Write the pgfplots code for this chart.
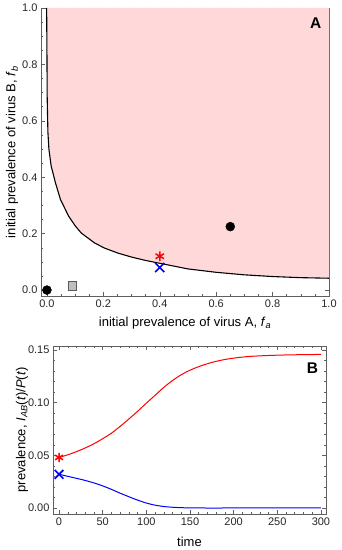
\documentclass[border=0pt]{standalone}
\usepackage{fontspec}
\setmainfont{Liberation Sans}
\usepackage{pgfplots}
\pgfplotsset{compat=1.18}
\definecolor{pinkfill}{RGB}{255,217,217}
\definecolor{framegray}{RGB}{95,95,95}
\pgfplotsset{
  mystyle/.style={
    scale only axis, anchor=south west,
    axis line style={framegray, line width=0.8pt},
    tick style={framegray, line width=0.5pt},
    tick align=inside,
    major tick length=4pt, minor tick length=2.2pt,
    ticklabel style={font=\fontsize{11}{13}\selectfont, text=black!85},
    /pgf/number format/assume math mode=true,
    label style={font=\fontsize{13}{15}\selectfont},
  }
}
\begin{document}
\begin{tikzpicture}
\useasboundingbox (0pt,0pt) rectangle (341pt,550pt);
\begin{axis}[mystyle, at={(53pt,36pt)}, width=273pt, height=168pt,
  xmin=-6.9, xmax=305.8, ymin=-0.0057, ymax=0.1538,
  xtick={0,50,100,150,200,250,300}, ytick={0,0.05,0.1,0.15},
  minor xtick={10,20,30,40,60,70,80,90,110,120,130,140,160,170,180,190,210,220,230,240,260,270,280,290},
  minor ytick={0.01,0.02,0.03,0.04,0.06,0.07,0.08,0.09,0.11,0.12,0.13,0.14},
  yticklabel style={/pgf/number format/fixed,/pgf/number format/fixed zerofill,/pgf/number format/precision=2},
  scaled y ticks=false,
  xlabel={time},
  ylabel={prevalence, \textit{I}\textsubscript{\textit{AB}}(\textit{t})/\textit{P}(\textit{t})},
  xlabel style={at={(rel axis cs:0.5,-0.165)},anchor=center},
  ylabel style={at={(rel axis cs:-0.1136,0.5)},anchor=center},
]
\addplot[red, line width=1pt, smooth, tension=0.5] coordinates {
(0,0.048) (10,0.0505) (20,0.0535) (30,0.057) (40,0.061) (50,0.0658) (60,0.071) (70,0.0775)
(80,0.0845) (90,0.0918) (100,0.0995) (110,0.107) (120,0.1145) (130,0.121)
(140,0.1265) (150,0.1308) (160,0.1342) (175,0.1382) (190,0.1410) (205,0.1428) (220,0.1440) (240,0.1448)
(260,0.1453) (280,0.1456) (300,0.1458)};
\addplot[blue, line width=1pt, smooth, tension=0.4] coordinates {
(0,0.032) (14,0.0293) (28,0.0266) (40,0.0238) (50,0.0210) (60,0.0177) (70,0.0141)
(80,0.0107) (90,0.0075) (100,0.0047) (110,0.0027) (120,0.0014) (130,0.0007) (140,0.0003)
(150,0.0001) (165,0) (200,0) (250,0) (300,0)};
\addplot[only marks, mark=asterisk, mark size=4.6pt, red, line width=1.5pt] coordinates {(0,0.048)};
\addplot[only marks, mark=x, mark size=6.2pt, blue, line width=1.7pt] coordinates {(0,0.032)};
\node[font=\fontsize{15.5}{17}\selectfont\bfseries, anchor=east] at (rel axis cs:0.984,0.866) {B};
\end{axis}
\begin{axis}[mystyle, at={(41pt,254pt)}, width=288pt, height=288pt,
  xmin=-0.021, xmax=1.0, ymin=-0.021, ymax=1.0,
  xtick={0,0.2,0.4,0.6,0.8,1}, ytick={0,0.2,0.4,0.6,0.8,1}, minor tick num=3,
  xticklabel style={/pgf/number format/fixed,/pgf/number format/fixed zerofill,/pgf/number format/precision=1},
  yticklabel style={/pgf/number format/fixed,/pgf/number format/fixed zerofill,/pgf/number format/precision=1},
  xlabel={initial prevalence of virus A, \textit{f}\textsubscript{\textit{a}}},
  ylabel={initial prevalence of virus B, \textit{f}\textsubscript{\textit{b}}},
  xlabel style={at={(rel axis cs:0.5,-0.094)},anchor=center},
  ylabel style={at={(rel axis cs:-0.1007,0.5)},anchor=center},
]
\addplot[fill=pinkfill, draw=none, forget plot] coordinates {
(-0.001,1.0) (0.0,0.85) (0.001,0.68) (0.0035,0.56) (0.007,0.5) (0.015,0.44)
(0.03,0.381) (0.048,0.321) (0.077,0.262) (0.1,0.228) (0.122,0.202) (0.169,0.167)
(0.204,0.149) (0.252,0.131) (0.3,0.117) (0.35,0.105) (0.4,0.095) (0.5,0.075)
(0.6,0.063) (0.7,0.054) (0.8,0.048) (0.9,0.044) (1.0,0.042) (1.0,1.0)};
\addplot[black, line width=1.1pt] coordinates {
(-0.001,1.0) (0.0,0.85) (0.001,0.68) (0.0035,0.56) (0.007,0.5) (0.015,0.44)
(0.03,0.381) (0.048,0.321) (0.077,0.262) (0.1,0.228) (0.122,0.202) (0.169,0.167)
(0.204,0.149) (0.252,0.131) (0.3,0.117) (0.35,0.105) (0.4,0.095) (0.5,0.075)
(0.6,0.063) (0.7,0.054) (0.8,0.048) (0.9,0.044) (1.0,0.042)};
\addplot[only marks, mark=*, mark size=4.5pt, black] coordinates {(0,0) (0.65,0.225)};
\addplot[only marks, mark=square*, mark size=4.3pt, mark options={fill=black!25, draw=black!65, line width=0.8pt}] coordinates {(0.09,0.015)};
\addplot[only marks, mark=asterisk, mark size=4.8pt, red, line width=1.5pt] coordinates {(0.4,0.12)};
\addplot[only marks, mark=x, mark size=6.5pt, blue, line width=1.7pt] coordinates {(0.4,0.08)};
\node[font=\fontsize{15.5}{17}\selectfont\bfseries, anchor=east] at (rel axis cs:0.986,0.948) {A};
\end{axis}
\end{tikzpicture}
\end{document}
